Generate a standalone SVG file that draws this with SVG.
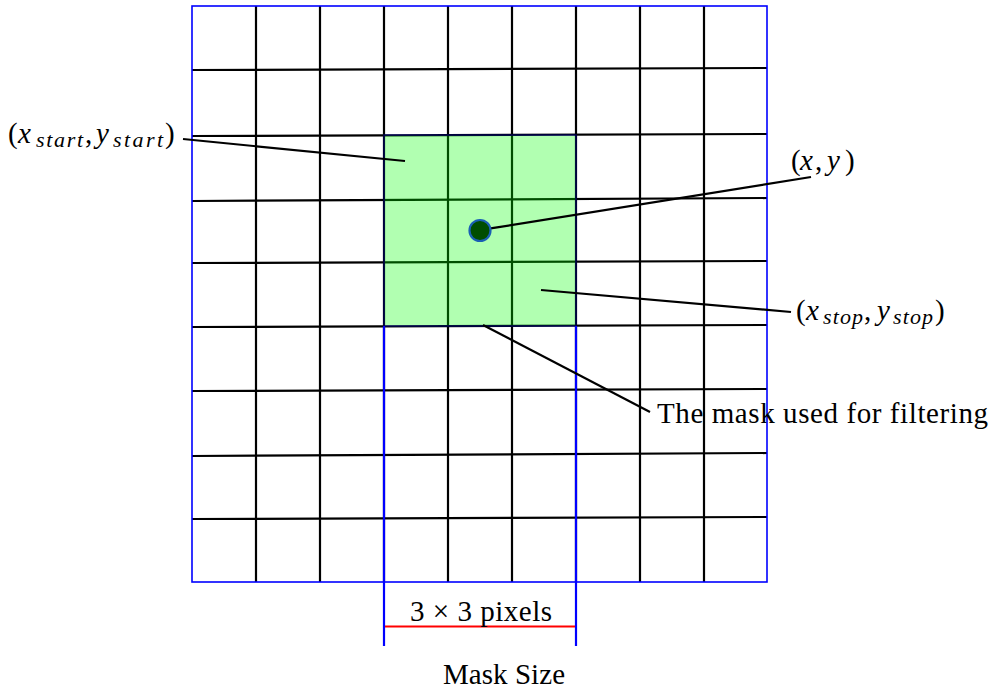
<svg xmlns="http://www.w3.org/2000/svg" width="993" height="690" viewBox="0 0 993 690">
<style>
.grid line{stroke:#000;stroke-width:2.2}
.border{fill:none;stroke:#0000ff;stroke-width:1.6}
.ext{stroke:#0000ff;stroke-width:2.2}
.conn line{stroke:#000;stroke-width:2.2}
text{font-family:"Liberation Serif","Times New Roman","DejaVu Serif",serif;font-size:29px;fill:#000}
.i{font-style:italic}
.sub{font-style:italic;font-size:22px}
</style>
<rect width="993" height="690" fill="#fff"/>
<g id="grid" class="grid">
<line x1="256" y1="6" x2="256" y2="582"/>
<line x1="320" y1="6" x2="320" y2="582"/>
<line x1="384" y1="6" x2="384" y2="582"/>
<line x1="448" y1="6" x2="448" y2="582"/>
<line x1="512" y1="6" x2="512" y2="582"/>
<line x1="576" y1="6" x2="576" y2="582"/>
<line x1="640" y1="6" x2="640" y2="582"/>
<line x1="704" y1="6" x2="704" y2="582"/>
<line x1="192" y1="70" x2="767" y2="68"/>
<line x1="192" y1="136" x2="767" y2="134"/>
<line x1="192" y1="201" x2="767" y2="198"/>
<line x1="192" y1="263" x2="767" y2="261"/>
<line x1="192" y1="327" x2="767" y2="325"/>
<line x1="192" y1="391" x2="767" y2="389"/>
<line x1="192" y1="456" x2="767" y2="453"/>
<line x1="192" y1="519" x2="767" y2="517"/>
</g>
<rect id="image-border" class="border" x="192" y="6" width="575" height="576"/>
<g id="mask">
<rect x="384" y="135" width="192" height="191" fill="#00ff00" stroke="#0000ff" stroke-width="1.6" opacity="0.3"/>
</g>
<g id="mask-size">
<line class="ext" x1="384" y1="326" x2="384" y2="646"/>
<line class="ext" x1="576" y1="326" x2="576" y2="646"/>
<line x1="385" y1="626.5" x2="575" y2="626.5" stroke="#ff0000" stroke-width="2.2"/>
<text x="410" y="620.5" textLength="142" lengthAdjust="spacing">3 × 3 pixels</text>
<text x="443" y="684" textLength="122" lengthAdjust="spacing">Mask Size</text>
</g>
<g id="connectors" class="conn">
<line x1="183" y1="139" x2="405" y2="161"/>
<line x1="489" y1="228.7" x2="811" y2="177"/>
<line x1="541" y1="290" x2="791" y2="312"/>
<line x1="483" y1="325" x2="650" y2="412"/>
</g>
<g id="center-pixel">
<circle cx="480" cy="230.5" r="10.5" fill="#004d00" stroke="#1a5fb4" stroke-width="2.2"/>
</g>
<g id="label-start">
<text y="143"><tspan x="8">(</tspan><tspan class="i" x="18">x</tspan><tspan class="sub" x="36" y="147" textLength="47" lengthAdjust="spacing">start</tspan><tspan x="85" y="143">,</tspan><tspan class="i" x="96">y</tspan><tspan class="sub" x="113" y="147" textLength="50" lengthAdjust="spacing">start</tspan><tspan x="165" y="143">)</tspan></text>
</g>
<g id="label-xy">
<text y="170"><tspan x="791">(</tspan><tspan class="i" x="800">x</tspan><tspan x="815">,</tspan><tspan class="i" x="827">y</tspan><tspan x="845">)</tspan></text>
</g>
<g id="label-stop">
<text y="320"><tspan x="796">(</tspan><tspan class="i" x="806">x</tspan><tspan class="sub" x="823" y="324" textLength="40" lengthAdjust="spacing">stop</tspan><tspan x="864" y="320">,</tspan><tspan class="i" x="877">y</tspan><tspan class="sub" x="893" y="324" textLength="40" lengthAdjust="spacing">stop</tspan><tspan x="935" y="320">)</tspan></text>
</g>
<g id="label-mask">
<text x="657" y="423" textLength="331" lengthAdjust="spacing">The mask used for filtering</text>
</g>
</svg>
